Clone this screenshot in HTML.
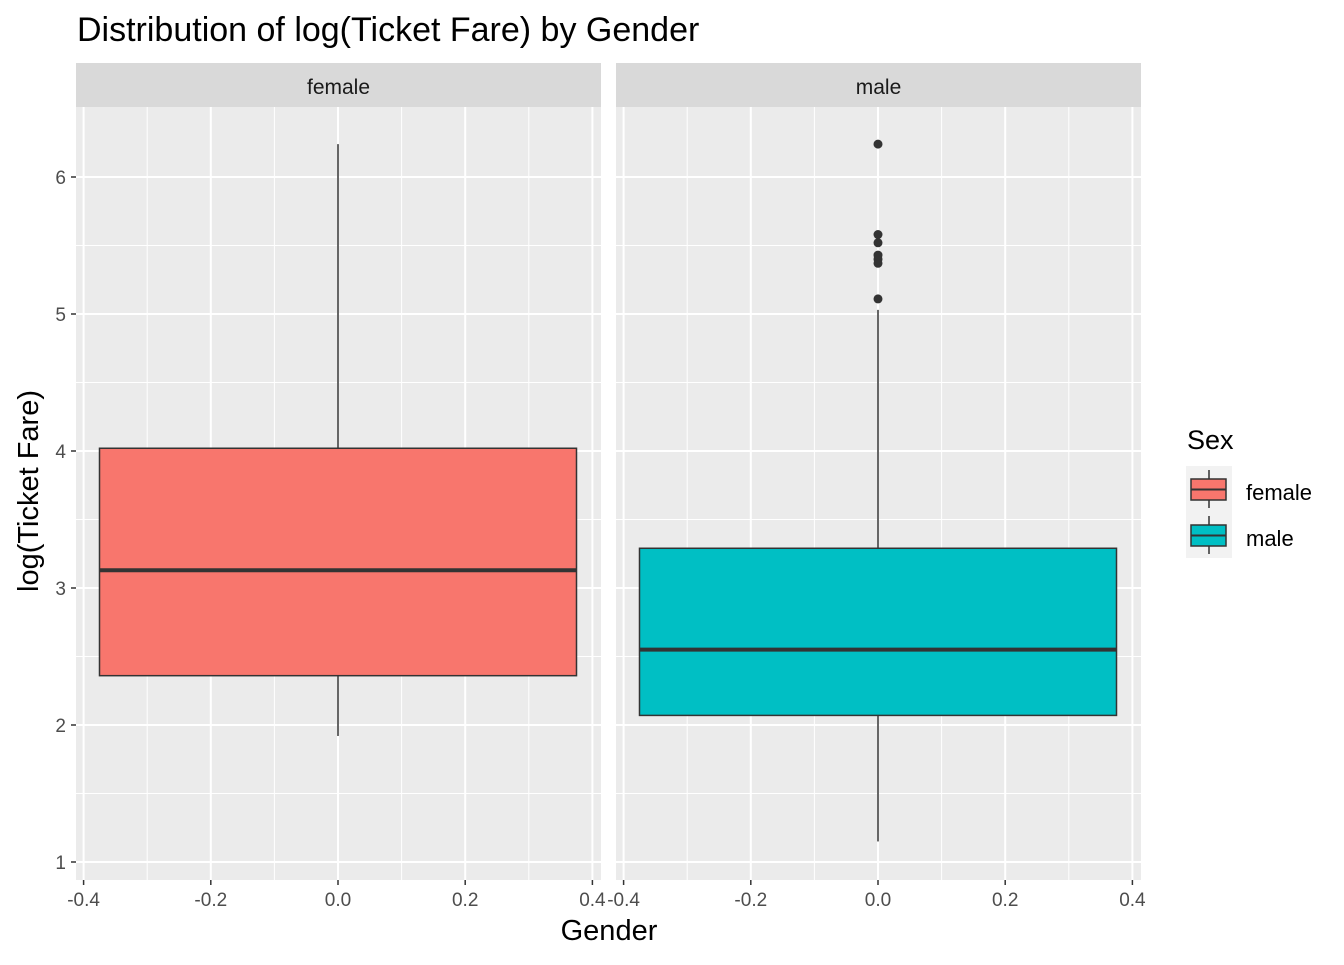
<!DOCTYPE html>
<html><head><meta charset="utf-8"><style>
body{margin:0;background:#fff;font-family:"Liberation Sans",Arial,sans-serif;}
</style></head><body>
<svg id="c" width="1344" height="960" xmlns="http://www.w3.org/2000/svg" font-family="Liberation Sans, Arial, sans-serif">
<text x="77" y="41" font-size="34" fill="#000">Distribution of log(Ticket Fare) by Gender</text>
<text x="609" y="940" font-size="29" text-anchor="middle" fill="#000">Gender</text>
<text transform="translate(38,491) rotate(-90)" font-size="29" text-anchor="middle" fill="#000">log(Ticket Fare)</text>
<g id="panels"></g>
<g>
<text x="1187" y="449" font-size="27" fill="#000">Sex</text>
<rect x="1186" y="466" width="46" height="92" fill="#f2f2f2"/>
<g>
<line x1="1209" y1="470" x2="1209" y2="508" stroke="#333" stroke-width="1.5"/>
<rect x="1191" y="479" width="35" height="21" fill="#F8766D" stroke="#333" stroke-width="1.5"/>
<line x1="1191" y1="489.5" x2="1226" y2="489.5" stroke="#333" stroke-width="2"/>
<text x="1246" y="500" font-size="22" fill="#000">female</text></g>
<g>
<line x1="1209" y1="516" x2="1209" y2="554" stroke="#333" stroke-width="1.5"/>
<rect x="1191" y="525" width="35" height="21" fill="#00BFC4" stroke="#333" stroke-width="1.5"/>
<line x1="1191" y1="535.5" x2="1226" y2="535.5" stroke="#333" stroke-width="2"/>
<text x="1246" y="546" font-size="22" fill="#000">male</text></g>
</g>
</svg>
<script>
const groups=['female','male'];
const colors=['#F8766D','#00BFC4'];
const q1=[2.36,2.07];
const medians=[3.13,2.55];
const q3=[4.02,3.29];
const whiskLow=[1.92,1.15];
const whiskHigh=[6.24,5.03];
const outliersMale=[6.24,5.58,5.52,5.43,5.40,5.37,5.11];
const yTicks=[1,2,3,4,5,6];
const xTicks=[-0.4,-0.2,0.0,0.2,0.4];
const xTickLabels=['-0.4','-0.2','0.0','0.2','0.4'];
const NS='http://www.w3.org/2000/svg';
const panelsG=document.getElementById('panels');
const panelX=[76,616], panelW=525, plotTop=107, plotBottom=880;
function y(v){return 862-(v-1)*137;}
function mk(t,a,p){const e=document.createElementNS(NS,t);for(const k in a)e.setAttribute(k,a[k]);(p||panelsG).appendChild(e);return e;}
groups.forEach((g,i)=>{
  const px=panelX[i];
  const x=v=>px+262+v*636;
  const pg=mk('g',{});
  
  
  const strip=mk('rect',{x:px,y:63,width:panelW,height:44,fill:'#d9d9d9'},pg);
  
  
  const st=mk('text',{x:px+panelW/2,y:94,'font-size':21,'text-anchor':'middle',fill:'#1a1a1a'},pg);st.textContent=g;
  mk('rect',{x:px,y:plotTop,width:panelW,height:plotBottom-plotTop,fill:'#ebebeb'},pg);
  for(let k=0;k<yTicks.length-1;k++) mk('line',{x1:px,x2:px+panelW,y1:y(yTicks[k]+0.5),y2:y(yTicks[k]+0.5),stroke:'#fff','stroke-width':1},pg);
  yTicks.forEach(t=>mk('line',{x1:px,x2:px+panelW,y1:y(t),y2:y(t),stroke:'#fff','stroke-width':2},pg));
  for(let k=0;k<xTicks.length-1;k++) mk('line',{x1:x(xTicks[k]+0.1),x2:x(xTicks[k]+0.1),y1:plotTop,y2:plotBottom,stroke:'#fff','stroke-width':1},pg);
  xTicks.forEach((t,k)=>{
    mk('line',{x1:x(t),x2:x(t),y1:plotTop,y2:plotBottom,stroke:'#fff','stroke-width':2},pg);
    mk('line',{x1:x(t),x2:x(t),y1:plotBottom,y2:plotBottom+5,stroke:'#333','stroke-width':1.5},pg);
    const tx=mk('text',{x:x(t),y:906,'font-size':19,'text-anchor':'middle',fill:'#4d4d4d'},pg);tx.textContent=xTickLabels[k];
  });
  if(i===0){
    yTicks.forEach(t=>{
      mk('line',{x1:71,x2:76,y1:y(t),y2:y(t),stroke:'#333','stroke-width':1.5},pg);
      const tx=mk('text',{x:66,y:y(t)+7,'font-size':19,'text-anchor':'end',fill:'#4d4d4d'},pg);tx.textContent=t;
    });
  }
  mk('line',{x1:x(0),x2:x(0),y1:y(whiskHigh[i]),y2:y(q3[i]),stroke:'#333','stroke-width':1.5},pg);
  mk('line',{x1:x(0),x2:x(0),y1:y(q1[i]),y2:y(whiskLow[i]),stroke:'#333','stroke-width':1.5},pg);
  const b=mk('rect',{x:x(-0.375),y:y(q3[i]),width:x(0.375)-x(-0.375),height:y(q1[i])-y(q3[i]),fill:colors[i],stroke:'#333','stroke-width':1.5},pg);
  
  
  const m=mk('line',{x1:x(-0.375),x2:x(0.375),y1:y(medians[i]),y2:y(medians[i]),stroke:'#333','stroke-width':4},pg);
  
  
  if(g==='male') outliersMale.forEach(v=>{
    const c=mk('circle',{cx:x(0),cy:y(v),r:4.5,fill:'#333'},pg);
    
    
  });
});
</script>
</body></html>
